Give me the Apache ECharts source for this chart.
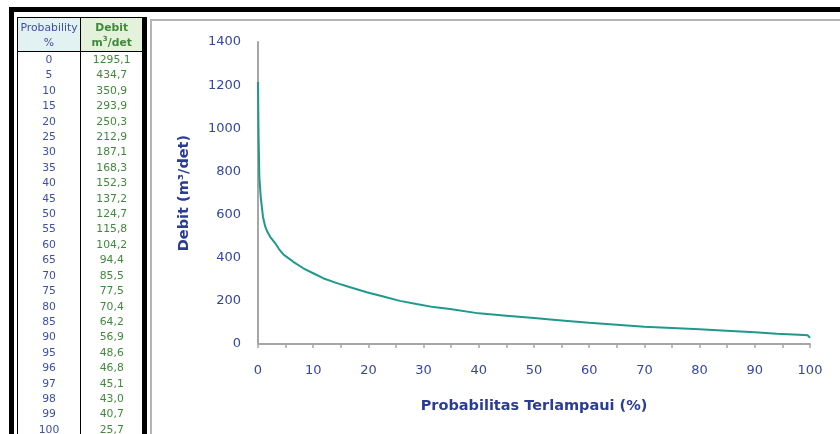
<!DOCTYPE html>
<html>
<head>
<meta charset="utf-8">
<script src="https://cdn.jsdelivr.net/npm/echarts@6/dist/echarts.min.js"></script>
<style>
  html, body { margin:0; padding:0; background:#fff; }
  body { width:840px; height:434px; overflow:hidden; position:relative; font-family:"DejaVu Sans", sans-serif; }
  #chart { position:absolute; left:0; top:0; width:840px; height:434px; z-index:1; }
  .frameTop { position:absolute; left:9px; top:7px; width:831px; height:5px; background:#000; z-index:3; }
  .frameLeft { position:absolute; left:9px; top:7px; width:5px; height:427px; background:#000; z-index:3; }
  .tblRight { position:absolute; left:142px; top:17px; width:5px; height:417px; background:#000; z-index:3; }
  .chartTop { position:absolute; left:150px; top:19px; width:690px; height:2px; background:#b4b4b4; z-index:3; }
  .chartLeft { position:absolute; left:150px; top:19px; width:2px; height:415px; background:#b4b4b4; z-index:3; }
  #tbl { position:absolute; left:17px; top:17px; width:125px; z-index:2; border-collapse:collapse; table-layout:fixed;
         font-family:"DejaVu Sans", sans-serif; font-size:10.8px; }
  #tbl td, #tbl th { padding:0; text-align:center; }
  #tbl th { font-weight:normal; border-top:1.5px solid #000; border-bottom:1px solid #000; height:33px; line-height:15px; }
  #tbl th.p { background:#e2f1f2; color:#3d4fa6; border-left:1px solid #000; border-right:1px solid #000; }
  #tbl th.d { background:#e4f1db; color:#3f8a3a; font-weight:bold; }
  #tbl td { height:15.4px; line-height:15.4px; }
  #tbl td.p { color:#3d4fa6; border-left:1px solid #000; border-right:1px solid #000; }
  #tbl td.d { color:#3f8a3a; }
</style>
</head>
<body>
<div id="chart"></div>
<table id="tbl">
  <colgroup><col style="width:63px"><col style="width:62px"></colgroup>
  <thead><tr><th class="p">Probability<br>%</th><th class="d">Debit<br>m<sup style="font-size:7px;line-height:0">3</sup>/det</th></tr></thead>
  <tbody id="tbody"></tbody>
</table>
<div class="frameTop"></div>
<div class="frameLeft"></div>
<div class="tblRight"></div>
<div class="chartTop"></div>
<div class="chartLeft"></div>
<script>
// Table values (Probability %, Debit m3/det)
const tableProb = [0, 5, 10, 15, 20, 25, 30, 35, 40, 45, 50, 55, 60, 65, 70, 75, 80, 85, 90, 95, 96, 97, 98, 99, 100];
const tableDebit = [1295.1, 434.7, 350.9, 293.9, 250.3, 212.9, 187.1, 168.3, 152.3, 137.2, 124.7, 115.8, 104.2, 94.4, 85.5, 77.5, 70.4, 64.2, 56.9, 48.6, 46.8, 45.1, 43.0, 40.7, 25.7];

// Flow duration curve
const curveProb = [0, 0.1, 0.25, 0.5, 0.9, 1.3, 1.7, 2.2, 3.1, 3.8, 4.6, 5.5, 6.4, 8.2, 10, 11.8, 14.3, 16.7, 19.7, 22.7, 25.7, 28.7, 31.8, 34.8, 40, 45, 50, 55, 60, 65, 70, 75, 80, 84, 90, 94, 98, 99.6, 100];
const curveDebit = [1215, 965, 770, 680, 590, 545, 520, 497, 468, 440, 415, 398, 381, 351, 328, 305, 282, 263, 240, 220, 200, 185, 171, 162, 142, 131, 120, 109, 98, 89, 80, 74, 68, 63, 55, 48, 43, 40, 28];

// Axis labels
const yTitle = 'Debit (m³/det)';
const xTitle = 'Probabilitas Terlampaui (%)';

const tbody = document.getElementById('tbody');
tableProb.forEach((p, i) => {
  const tr = document.createElement('tr');
  const a = document.createElement('td'); a.className = 'p'; a.textContent = String(p);
  const b = document.createElement('td'); b.className = 'd'; b.textContent = tableDebit[i].toFixed(1).replace('.', ',');
  tr.appendChild(a); tr.appendChild(b); tbody.appendChild(tr);
});

const chart = echarts.init(document.getElementById('chart'), null, { renderer: 'canvas' });
const blue = '#3546a0';
chart.setOption({
  animation: false,
  backgroundColor: 'transparent',
  grid: { left: 258, right: 30, top: 42, bottom: 90, containLabel: false },
  xAxis: {
    type: 'value', min: 0, max: 100, interval: 5,
    name: xTitle, nameLocation: 'middle', nameGap: 55,
    nameTextStyle: { color: '#2b3c94', fontWeight: 'bold', fontSize: 14.5, fontFamily: 'DejaVu Sans' },
    axisLine: { show: true, lineStyle: { color: '#a6a6a6', width: 2 } },
    axisTick: { show: true, length: 4, lineStyle: { color: '#a6a6a6', width: 1.5 } },
    axisLabel: { color: blue, fontSize: 13, fontFamily: 'DejaVu Sans', margin: 20,
      formatter: v => (v % 10 === 0 ? String(v) : '') },
    splitLine: { show: false }
  },
  yAxis: {
    type: 'value', min: 0, max: 1400, interval: 200,
    name: yTitle, nameLocation: 'middle', nameGap: 66, nameRotate: 90,
    nameTextStyle: { color: '#2b3c94', fontWeight: 'bold', fontSize: 14.5, fontFamily: 'DejaVu Sans' },
    axisLine: { show: true, lineStyle: { color: '#a6a6a6', width: 2 } },
    axisTick: { show: false },
    axisLabel: { color: blue, fontSize: 13, fontFamily: 'DejaVu Sans', margin: 17,
      formatter: v => String(v) },
    splitLine: { show: false }
  },
  series: [{
    type: 'line',
    data: curveProb.map((p, i) => [p, curveDebit[i]]),
    showSymbol: false,
    lineStyle: { color: '#1f998b', width: 2 },
    itemStyle: { color: '#1f998b' }
  }]
});
</script>
</body>
</html>
